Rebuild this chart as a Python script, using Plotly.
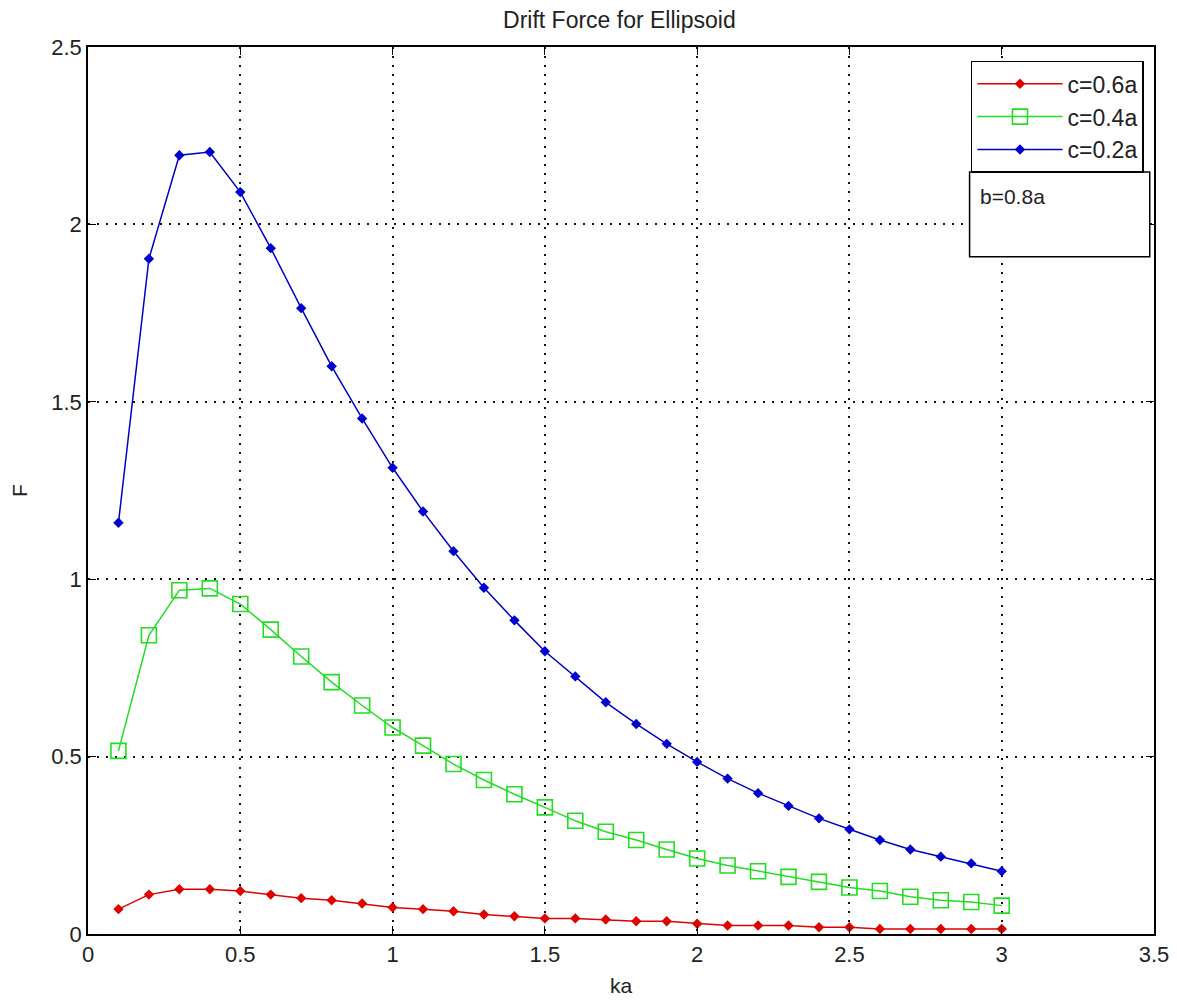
import plotly.graph_objects as go

ka = [round(0.1 * i, 1) for i in range(1, 31)]

f_c06 = [0.070, 0.111, 0.126, 0.126, 0.121, 0.111, 0.101, 0.095, 0.086, 0.075,
         0.070, 0.064, 0.055, 0.050, 0.044, 0.044, 0.041, 0.036, 0.036, 0.029,
         0.024, 0.024, 0.024, 0.019, 0.019, 0.014, 0.014, 0.014, 0.014, 0.014]

f_c04 = [0.516, 0.842, 0.969, 0.974, 0.930, 0.858, 0.782, 0.710, 0.644, 0.582,
         0.531, 0.479, 0.434, 0.394, 0.357, 0.319, 0.288, 0.265, 0.238, 0.213,
         0.193, 0.177, 0.161, 0.147, 0.131, 0.121, 0.105, 0.095, 0.090, 0.080]

f_c02 = [1.159, 1.903, 2.195, 2.204, 2.091, 1.933, 1.764, 1.600, 1.453, 1.314,
         1.191, 1.079, 0.976, 0.884, 0.797, 0.726, 0.653, 0.592, 0.536, 0.485,
         0.438, 0.397, 0.361, 0.326, 0.295, 0.265, 0.238, 0.218, 0.199, 0.177]

x_ticks = [0, 0.5, 1, 1.5, 2, 2.5, 3, 3.5]
x_tick_labels = ["0", "0.5", "1", "1.5", "2", "2.5", "3", "3.5"]
y_ticks = [0, 0.5, 1, 1.5, 2, 2.5]
y_tick_labels = ["0", "0.5", "1", "1.5", "2", "2.5"]

FONT = "Liberation Sans, Arial, sans-serif"
TXT = "#222"

fig = go.Figure()
fig.add_trace(go.Scatter(x=ka, y=f_c06, mode="lines+markers", name="c=0.6a",
                         line=dict(color="#e00000", width=1.5),
                         marker=dict(symbol="diamond", size=8, color="#e00000")))
fig.add_trace(go.Scatter(x=ka, y=f_c04, mode="lines+markers", name="c=0.4a",
                         line=dict(color="#22dd22", width=1.5),
                         marker=dict(symbol="square-open", size=15, color="#22dd22",
                                     line=dict(width=1.6, color="#22dd22"))))
fig.add_trace(go.Scatter(x=ka, y=f_c02, mode="lines+markers", name="c=0.2a",
                         line=dict(color="#0000cc", width=1.5),
                         marker=dict(symbol="diamond", size=8, color="#0000cc")))

axis_common = dict(
    showline=True, linecolor="black", linewidth=1.5, mirror="ticks",
    ticks="inside", ticklen=8, tickwidth=1.2, tickcolor="black",
    showgrid=True, gridcolor="#111", griddash="2px,7px", gridwidth=1.5,
    zeroline=False, automargin=False,
    tickfont=dict(family=FONT, size=22, color=TXT),
)

fig.update_xaxes(range=[0, 3.5], tickvals=x_ticks, ticktext=x_tick_labels,
                 title=dict(text="ka", font=dict(family=FONT, size=21, color=TXT), standoff=12),
                 **axis_common)
fig.update_yaxes(range=[0, 2.5], tickvals=y_ticks, ticktext=y_tick_labels,
                 title=dict(text="F", font=dict(family=FONT, size=21, color=TXT), standoff=30),
                 **axis_common)

fig.add_shape(type="rect", xref="paper", yref="paper",
              x0=0.827, x1=0.996, y0=0.7636, y1=0.859,
              line=dict(color="black", width=1.5), fillcolor="white", layer="above")
fig.add_annotation(xref="paper", yref="paper", x=0.835, y=0.831,
                   xanchor="left", yanchor="middle", showarrow=False,
                   text="b=0.8a", font=dict(family=FONT, size=21, color=TXT))

# page body has an 8px margin, so the figure is sized/offset to compensate
fig.update_layout(
    width=1169, height=993,
    margin=dict(l=80, r=23, t=39, b=67),
    plot_bgcolor="white", paper_bgcolor="white",
    title=dict(text="Drift Force for Ellipsoid", x=0.523, xanchor="center",
               y=0.988, yanchor="middle",
               font=dict(family=FONT, size=23, color=TXT)),
    legend=dict(x=0.9906, y=0.9845, xanchor="right", yanchor="top",
                bgcolor="white", bordercolor="black", borderwidth=1.5,
                font=dict(family=FONT, size=23, color=TXT),
                tracegroupgap=0, itemwidth=85),
    showlegend=True,
)

fig.write_html("out.html")
